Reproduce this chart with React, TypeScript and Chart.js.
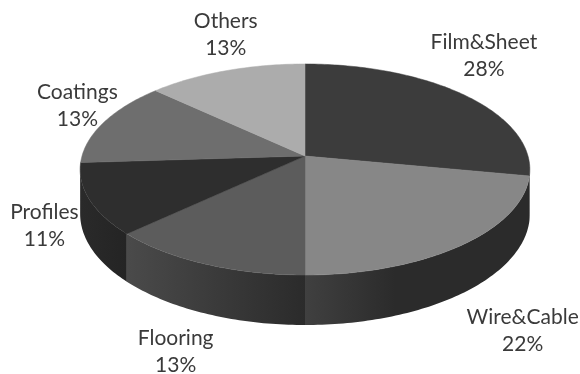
import React, { useEffect, useRef } from "react";
import { Chart, registerables } from "chart.js";

Chart.register(...registerables);

const categories = ["Film&Sheet", "Wire&Cable", "Flooring", "Profiles", "Coatings", "Others"];
const shares = [28, 22, 13, 11, 13, 13];
const topColors = ["#3c3c3c", "#878787", "#5c5c5c", "#2e2e2e", "#6e6e6e", "#acacac"];
const wallStart = ["#2b2b2b", "#404040", "#4a4a4a", "#2a2a2a", "#4a4a4a", "#6a6a6a"];
const wallEnd = ["#2b2b2b", "#2b2b2b", "#2b2b2b", "#242424", "#4a4a4a", "#6a6a6a"];

// Perspective of the tilted disc: apex position, radii, foreshortening and thickness.
const view = { cx: 305, cy: 156, rx: 223, ry: 103.8, k: 0.128, depth: 43.6 };
// Where each caption sits relative to the middle of its slice's rim.
const captionOffsets = [
  [20, -39],
  [60, 86],
  [-29, 87.5],
  [-45, 26.5],
  [-26.5, -17],
  [0, -36.5],
];
const captionFont = "21px Lato";
const captionColor = "#3a3a3a";

function project(angle: number, drop = 0) {
  const u = Math.cos(angle);
  const v = Math.sin(angle);
  const w = 1 - view.k * v;
  return { x: view.cx + (view.rx * u) / w, y: view.cy + (view.ry * v) / w + (drop * view.depth) / w };
}

function rimPoints(a0: number, a1: number, drop = 0) {
  const steps = Math.max(2, Math.ceil(Math.abs(a1 - a0) * 60));
  const pts = [];
  for (let i = 0; i <= steps; i++) pts.push(project(a0 + ((a1 - a0) * i) / steps, drop));
  return pts;
}

const perspectivePie = {
  id: "perspectivePie",
  beforeDatasetsDraw(chart: any) {
    const ctx: CanvasRenderingContext2D = chart.ctx;
    const arcs = chart.getDatasetMeta(0).data;
    // The wall is visible between the two tangent directions of the rim.
    const tangent = Math.acos(-view.k);
    const wallFrom = tangent - Math.PI / 2;
    const wallTo = Math.PI * 1.5 - tangent;

    ctx.save();
    arcs.forEach((arc: any, i: number) => {
      const a0 = Math.max(arc.startAngle, wallFrom);
      const a1 = Math.min(arc.endAngle, wallTo);
      if (a1 <= a0) return;
      const poly = rimPoints(a0, a1).concat(rimPoints(a1, a0, 1));
      const xs = poly.map((p) => p.x);
      const lo = Math.min(...xs);
      const hi = Math.max(...xs);
      // Shading runs from the slice's start-of-light edge; the right-hand wall fades out early.
      const leftSide = (arc.startAngle + arc.endAngle) / 2 > Math.PI / 2;
      const grad = leftSide
        ? ctx.createLinearGradient(lo, 0, hi, 0)
        : ctx.createLinearGradient(lo, 0, lo + 90, 0);
      grad.addColorStop(0, wallStart[i]);
      grad.addColorStop(1, wallEnd[i]);
      ctx.fillStyle = grad;
      ctx.beginPath();
      poly.forEach((p, j) => (j ? ctx.lineTo(p.x, p.y) : ctx.moveTo(p.x, p.y)));
      ctx.closePath();
      ctx.fill();
    });

    arcs.forEach((arc: any, i: number) => {
      ctx.fillStyle = topColors[i];
      ctx.strokeStyle = topColors[i];
      ctx.lineWidth = 0.5;
      ctx.beginPath();
      ctx.moveTo(view.cx, view.cy);
      rimPoints(arc.startAngle, arc.endAngle).forEach((p) => ctx.lineTo(p.x, p.y));
      ctx.closePath();
      ctx.fill();
      ctx.stroke();
    });

    ctx.font = captionFont;
    ctx.fillStyle = captionColor;
    ctx.textAlign = "center";
    ctx.textBaseline = "middle";
    arcs.forEach((arc: any, i: number) => {
      const rim = project((arc.startAngle + arc.endAngle) / 2);
      const x = rim.x + captionOffsets[i][0];
      const y = rim.y + captionOffsets[i][1];
      ctx.fillText(categories[i], x, y - 13.5);
      ctx.fillText(`${shares[i]}%`, x, y + 13.5);
    });
    ctx.restore();
    // The slices above replace the stock flat drawing.
    return false;
  },
};

export default function App() {
  const ref = useRef<HTMLCanvasElement>(null);

  useEffect(() => {
    const chart = new Chart(ref.current!, {
      type: "pie",
      data: {
        labels: categories,
        datasets: [{ data: shares, backgroundColor: topColors, borderWidth: 0 }],
      },
      options: {
        animation: false,
        responsive: false,
        plugins: { legend: { display: false }, tooltip: { enabled: false } },
      },
      plugins: [perspectivePie],
    });
    return () => chart.destroy();
  }, []);

  return (
    <div style={{ position: "fixed", left: 0, top: 0, width: 580, height: 374, background: "#ffffff" }}>
      <canvas ref={ref} width={580} height={374} style={{ display: "block" }} />
    </div>
  );
}
